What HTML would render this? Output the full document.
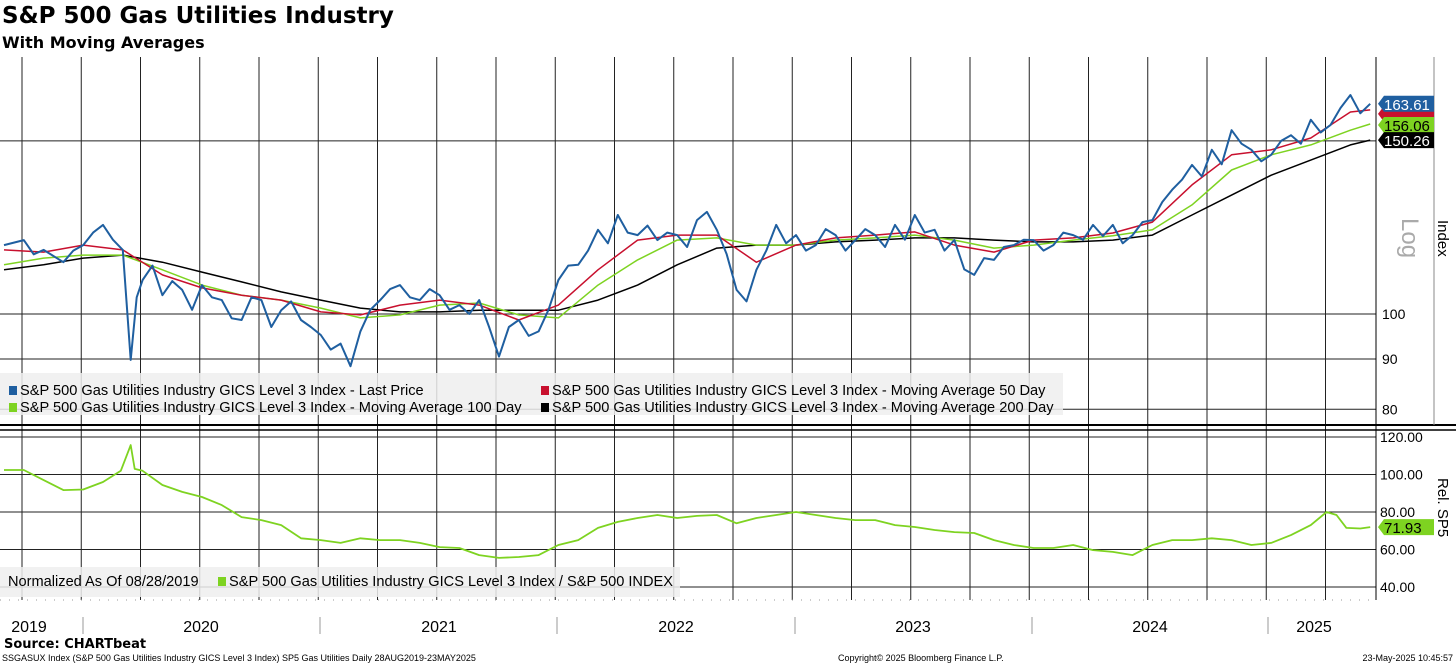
<!DOCTYPE html>
<html><head><meta charset="utf-8"><style>
body{margin:0;background:#fff;width:1456px;height:665px;overflow:hidden;font-family:"Liberation Sans",sans-serif}
#title{position:absolute;left:2px;top:3px;font-weight:bold;font-size:23px;color:#000;font-family:"DejaVu Sans",sans-serif}
#sub{position:absolute;left:2px;top:33px;font-weight:bold;font-size:16px;color:#000;font-family:"DejaVu Sans",sans-serif}
svg{position:absolute;left:0;top:0}
</style></head><body>
<div id="title">S&amp;P 500 Gas Utilities Industry</div>
<div id="sub">With Moving Averages</div>
<svg id="c" width="1456" height="665"></svg>
<script>
const priceMonths=[0,1,1.5,2,3,3.5,4,4.5,5,5.5,6,6.4,6.7,7,7.5,8,8.5,9,9.5,10,10.5,11,11.5,12,12.5,13,13.5,14,14.5,15,15.5,16,16.5,17,17.5,18,18.5,19,19.5,20,20.5,21,21.5,22,22.5,23,23.5,24,24.5,25,25.5,26,26.5,27,27.5,28,28.5,29,29.5,30,30.5,31,31.5,32,32.5,33,33.5,34,34.5,35,35.5,36,36.5,37,37.5,38,38.5,39,39.5,40,40.5,41,41.5,42,42.5,43,43.5,44,44.5,45,45.5,46,46.5,47,47.5,48,48.5,49,49.5,50,50.5,51,51.5,52,52.5,53,53.5,54,54.5,55,55.5,56,56.5,57,57.5,58,58.5,59,59.5,60,60.5,61,61.5,62,62.5,63,63.5,64,64.5,65,65.5,66,66.5,67,67.5,68,68.5,69];
const priceVals=[117.5,118.9,115,116.2,112.9,116,117.5,121,123.2,119,116.2,89.8,104,108.3,112,104.5,108,105.8,101,107,104,103.3,99,98.6,104,103.3,97,100.9,103,98.6,97,95.2,92,93.3,88.5,96,101,103.3,106,107,104,103.3,106,104.5,101,102.1,100,103.3,97,90.5,97,98.6,95,96,101,108.3,112,112.2,116,121.8,118,126.1,121,120.3,123,118.9,121,120.3,117,124.6,127,121.8,115,105.8,103,110.9,116,123.2,118,120.3,116,117.5,122,120.3,116,118.9,122,120.3,117,123.2,119,126.1,121,121.8,116,118.9,111,109.6,114,113.5,117,117.5,119,118.9,116,117.5,121,120.3,119,123.2,120,123.2,118,120.3,124,124.6,130,133.8,137,141.8,138,146.9,142,153.8,149,146.9,143,145.2,150,152,149,157.6,153,155.7,162,167,160,163.61];
const maMonths=[0,2,4,6,8,10,12,14,16,18,20,22,24,26,28,30,32,34,36,38,40,42,44,46,48,50,52,54,56,58,60,62,64,66,68,69];
const ma50=[116.2,115.6,117.5,116.2,109.6,106.3,104.5,103.3,100.5,99.8,102.1,103.3,102.1,98.6,102.1,110.9,118.9,120.3,120.3,112.9,117.5,119.5,120.3,121.2,117.5,115.6,118.9,119.5,120.9,124.0,135.3,145.2,146.9,151.0,160.5,161.3];
const ma100=[112.2,114.0,114.8,114.8,110.9,107.0,104.5,103.3,101.4,99.1,99.8,102.1,102.6,99.8,99.1,107.0,113.5,118.9,119.5,117.5,117.5,118.9,119.5,120.3,118.9,116.7,117.5,118.9,120.1,121.8,129.1,140.1,145.2,148.6,153.8,156.06];
const ma200=[110.9,112.2,114.0,114.8,112.9,110.3,107.8,105.3,103.3,101.4,100.5,100.5,100.9,100.9,100.9,103.3,107.0,112.2,116.7,117.5,117.5,118.4,118.9,119.5,119.5,118.9,118.4,118.4,118.9,120.3,126.1,132.1,138.4,143.4,148.6,150.26];
const relMonths=[0,1,2,3,4,5,5.9,6.4,6.6,7,8,9,10,11,12,13,14,15,16,17,18,19,20,21,22,23,24,25,26,27,28,29,30,31,32,33,34,35,36,37,38,39,40,41,42,43,44,45,46,47,48,49,50,51,52,53,54,55,56,57,58,59,60,61,62,63,64,65,66,66.8,67.3,67.8,68.5,69];
const relVals=[102.4,102.4,97,91.7,92,96,102,115.7,103,102,94.4,90.7,88,83.7,77.3,75.7,73,66,65,63.5,66,65,65,63.5,61.3,60.8,57,55.5,56,57,62.4,65,71.5,74.7,76.8,78.4,76.8,77.9,78.4,74,76.8,78.4,80,78.4,76.8,75.7,75.7,73,72,70.4,69.3,68.8,65,62.4,60.8,60.8,62.4,59.7,58.7,57,62.4,65,65,66,65,62.4,63.5,67.7,73,80,78.4,71.5,71.2,71.93];
const upperTicks=[100,90,80];
const lowerTicks=[120,100,80,60,40];
const years=["2019","2020","2021","2022","2023","2024","2025"];

const NS="http://www.w3.org/2000/svg";
const svg=document.getElementById('c');
function mk(t,a,p){const e=document.createElementNS(NS,t);for(const k in a)e.setAttribute(k,a[k]);(p||svg).appendChild(e);return e;}
const xM=m=>4+m*19.8;
const yU=v=>314-427*Math.log(v/100);
const yL=v=>437+(120-v)*37.5/20;
const grid=mk('g',{});


for(let x=22;x<1372;x+=59.25){mk('line',{x1:x,x2:x,y1:57,y2:600,stroke:'#222','stroke-width':1},grid);}
[150].concat(upperTicks).forEach(v=>mk('line',{x1:0,x2:1376,y1:yU(v),y2:yU(v),stroke:'#222','stroke-width':1},grid));
lowerTicks.forEach(v=>mk('line',{x1:0,x2:1376,y1:yL(v),y2:yL(v),stroke:'#222','stroke-width':1},grid));
mk('line',{x1:0,x2:1456,y1:425,y2:425,stroke:'#000','stroke-width':2},grid);
mk('line',{x1:0,x2:1456,y1:430,y2:430,stroke:'#000','stroke-width':1.5},grid);
mk('line',{x1:1376,x2:1376,y1:57,y2:600,stroke:'#000','stroke-width':1},grid);
mk('line',{x1:1434,x2:1434,y1:57,y2:425,stroke:'#888','stroke-width':1},grid);
mk('line',{x1:0,x2:1376,y1:600,y2:600,stroke:'#999','stroke-width':1,'stroke-dasharray':'1 8'},grid);
function line(ms,vs,yf,col,w){const d=ms.map((m,i)=>(i?'L':'M')+xM(m).toFixed(1)+','+yf(vs[i]).toFixed(1)).join('');return mk('path',{d:d,fill:'none',stroke:col,'stroke-width':w,'stroke-linejoin':'round'});}
const s4=line(maMonths,ma200,yU,'#000',1.5);


const s3=line(maMonths,ma100,yU,'#7ed321',1.5);


const s2=line(maMonths,ma50,yU,'#c8102e',1.5);


const s1=line(priceMonths,priceVals,yU,'#1f5fa0',2);


const s5=line(relMonths,relVals,yL,'#7ed321',1.8);


upperTicks.forEach(v=>{const t=mk('text',{x:1382,y:yU(v)+5,'font-size':14,fill:'#000'});t.textContent=v;

});
lowerTicks.forEach(v=>{const t=mk('text',{x:1380,y:yL(v)+5,'font-size':14,fill:'#000'});t.textContent=v.toFixed(2);

});
const ti=mk('text',{transform:'translate(1438,220) rotate(90)','font-size':15,fill:'#000'});ti.textContent='Index';


const tl=mk('text',{transform:'translate(1402,218) rotate(90)','font-size':24,fill:'#aaa'});tl.textContent='Log';


const tr=mk('text',{transform:'translate(1438,478) rotate(90)','font-size':15,fill:'#000'});tr.textContent='Rel. SP5';


function tag(y,v,bg,fg,name){const g=mk('g',{});

mk('path',{d:`M1378,${y} L1384,${y-8} L1434,${y-8} L1434,${y+8} L1384,${y+8} Z`,fill:bg},g);
const t=mk('text',{x:1384,y:y+6,'font-size':15,fill:fg},g);t.textContent=v;}
tag(yU(161.3)+4,'','#c8102e','#fff','ma50-tag');
tag(yU(163.61),'163.61','#1f5fa0','#fff','price-tag');
tag(yU(156.06)+1,'156.06','#7ed321','#000','ma100-tag');
tag(yU(150.26),'150.26','#000','#fff','ma200-tag');
tag(yL(71.93),'71.93','#7ed321','#000','relative-tag');
function legend(x,y,w,h,items,name){const g=mk('g',{});

mk('rect',{x:x,y:y,width:w,height:h,fill:'#eeeeee','fill-opacity':0.85},g);
items.forEach(it=>{mk('rect',{x:it[0],y:it[1]-9,width:8,height:9,fill:it[2]},g);const t=mk('text',{x:it[0]+11,y:it[1],'font-size':14.6,fill:'#000'},g);t.textContent=it[3];});}
legend(0,373,1063,42,[[9,395,'#1f5fa0','S&P 500 Gas Utilities Industry GICS Level 3 Index - Last Price'],[541,395,'#c8102e','S&P 500 Gas Utilities Industry GICS Level 3 Index - Moving Average 50 Day'],[9,412,'#7ed321','S&P 500 Gas Utilities Industry GICS Level 3 Index - Moving Average 100 Day'],[541,412,'#000','S&P 500 Gas Utilities Industry GICS Level 3 Index - Moving Average 200 Day']],'upper-legend');
const lg=mk('g',{});

mk('rect',{x:0,y:567,width:680,height:30,fill:'#eeeeee','fill-opacity':0.85},lg);
const n1=mk('text',{x:8,y:586,'font-size':14.6},lg);n1.textContent='Normalized As Of 08/28/2019';
mk('rect',{x:218,y:577,width:8,height:9,fill:'#7ed321'},lg);
const n2=mk('text',{x:229,y:586,'font-size':14.6},lg);n2.textContent='S&P 500 Gas Utilities Industry GICS Level 3 Index / S&P 500 INDEX';
const yx=[29,201,439,676,913,1150,1314];
years.forEach((yr,i)=>{const t=mk('text',{x:yx[i],y:632,'font-size':16,'text-anchor':'middle'});t.textContent=yr;

});
[83,320,557,795,1032,1268].forEach(x=>mk('line',{x1:x,x2:x,y1:617,y2:634,stroke:'#999'}));
const src=mk('text',{x:4,y:648,'font-size':13,'font-weight':'bold','font-family':'DejaVu Sans'});src.textContent='Source: CHARTbeat';


const f1=mk('text',{x:2,y:661,'font-size':9});f1.textContent='SSGASUX Index (S&P 500 Gas Utilities Industry GICS Level 3 Index) SP5 Gas Utilities  Daily 28AUG2019-23MAY2025';


const f2=mk('text',{x:838,y:661,'font-size':9});f2.textContent='Copyright© 2025 Bloomberg Finance L.P.';


const f3=mk('text',{x:1453,y:661,'font-size':9,'text-anchor':'end'});f3.textContent='23-May-2025 10:45:57';


</script>
</body></html>
